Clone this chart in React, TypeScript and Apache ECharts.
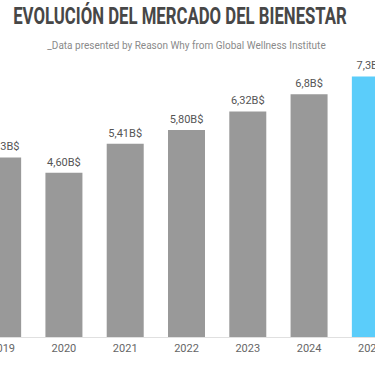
import React, { useEffect, useRef } from "react";
import * as echarts from "echarts";

const years = ["2019", "2020", "2021", "2022", "2023", "2024", "2025"];
const values = [5.03, 4.6, 5.41, 5.8, 6.32, 6.8, 7.3];
const valueLabels = ["4,93B$", "4,60B$", "5,41B$", "5,80B$", "6,32B$", "6,8B$", "7,3B$"];
const barColors = ["#999999", "#999999", "#999999", "#999999", "#999999", "#999999", "#5BCDFA"];

const TITLE = "EVOLUCIÓN DEL MERCADO DEL BIENESTAR";
const SUBTITLE = "_Data presented by Reason Why from Global Wellness Institute";

const OFFSET = 28;

function measure(text: string, font: string): number {
  const c = document.createElement("canvas").getContext("2d");
  if (!c) return 500;
  c.font = font;
  return c.measureText(text).width;
}

export default function App() {
  const ref = useRef<HTMLDivElement>(null);
  useEffect(() => {
    if (!ref.current) return;
    const chart = echarts.init(ref.current, null, { renderer: "svg" });
    const titleFont = "bold 24px Roboto";
    const tw = measure(TITLE, titleFont);
    const sx = 334 / tw;
    chart.setOption({
      animation: false,
      backgroundColor: "#ffffff",
      graphic: [
        {
          type: "text",
          x: 180 + OFFSET,
          y: 15.5,
          scaleX: sx,
          scaleY: 1,
          style: {
            text: TITLE,
            font: titleFont,
            fill: "#474747",
            align: "center",
            verticalAlign: "middle",
          },
        },
        {
          type: "text",
          x: 186.5 + OFFSET,
          y: 45,
          style: {
            text: SUBTITLE,
            font: "normal 10px Roboto",
            fill: "#8a8a8a",
            align: "center",
            verticalAlign: "middle",
          },
        },
      ],
      grid: { left: 0, right: 0, top: 51.4, bottom: 29 },
      xAxis: {
        type: "category",
        data: years,
        axisLine: { show: true, lineStyle: { color: "#e0e0e0", width: 1 } },
        axisTick: { show: false },
        axisLabel: { color: "#666666", fontSize: 11, fontFamily: "Roboto", margin: 6 },
      },
      yAxis: {
        type: "value",
        min: 0,
        max: 8,
        show: false,
        splitLine: { show: false },
      },
      series: [
        {
          type: "bar",
          barWidth: 37,
          data: values.map((v, i) => ({ value: v, itemStyle: { color: barColors[i] } })),
          label: {
            show: true,
            position: "top",
            distance: 5,
            color: "#555555",
            fontSize: 11,
            fontFamily: "Roboto",
            formatter: (p: any) => valueLabels[p.dataIndex],
          },
        },
      ],
    });
    return () => chart.dispose();
  }, []);
  return (
    <div
      ref={ref}
      style={{ position: "fixed", left: -OFFSET, top: 0, width: 429, height: 366 }}
    />
  );
}
